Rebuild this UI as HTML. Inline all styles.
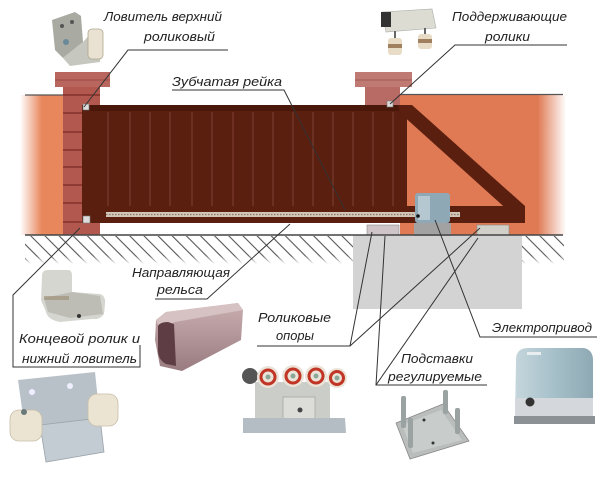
<!DOCTYPE html>
<html><head><meta charset="utf-8"><style>
html,body{margin:0;padding:0;background:#fff;}
svg{display:block;}
text{font-family:"Liberation Sans","DejaVu Sans",sans-serif;font-style:italic;font-size:13px;fill:#222;}
</style></head><body>
<svg width="600" height="482" viewBox="0 0 600 482" xmlns="http://www.w3.org/2000/svg">
<defs>
<linearGradient id="lw" x1="20" y1="0" x2="42" y2="0" gradientUnits="userSpaceOnUse"><stop offset="0" stop-color="#fff"/><stop offset="1" stop-color="#e8865c"/></linearGradient>
<linearGradient id="rw" x1="538" y1="0" x2="566" y2="0" gradientUnits="userSpaceOnUse"><stop offset="0" stop-color="#e07a55"/><stop offset="1" stop-color="#fff"/></linearGradient>
<pattern id="hp" width="10" height="10" patternUnits="userSpaceOnUse" patternTransform="rotate(-45)"><line x1="5" y1="0" x2="5" y2="10" stroke="#555" stroke-width="1.1"/></pattern>
<linearGradient id="hf" x1="0" y1="236" x2="0" y2="264" gradientUnits="userSpaceOnUse"><stop offset="0" stop-color="#fff"/><stop offset="0.7" stop-color="#fff"/><stop offset="1" stop-color="#000"/></linearGradient>
<mask id="hm"><rect x="0" y="236" width="600" height="30" fill="url(#hf)"/></mask>
<linearGradient id="mot" x1="0" y1="0" x2="1" y2="0"><stop offset="0" stop-color="#c5d6dc"/><stop offset="0.5" stop-color="#a6c0ca"/><stop offset="1" stop-color="#8fa9b4"/></linearGradient>
<linearGradient id="rail" x1="0" y1="0" x2="0" y2="1"><stop offset="0" stop-color="#c9aeb0"/><stop offset="1" stop-color="#9a7c80"/></linearGradient>
</defs>

<!-- walls -->
<rect x="20" y="95" width="45" height="140" fill="url(#lw)"/>
<rect x="400" y="95" width="140" height="140" fill="#e07a55"/>
<rect x="538" y="95" width="28" height="140" fill="url(#rw)"/>
<line x1="25" y1="95" x2="63" y2="95" stroke="#555" stroke-width="1.2"/>
<line x1="400" y1="94.5" x2="563" y2="94.5" stroke="#555" stroke-width="1.2"/>

<!-- left pillar -->
<rect x="63" y="87" width="37" height="148" fill="#b3584f"/>
<rect x="55" y="72" width="55" height="15" fill="#b8665e"/>
<line x1="55" y1="80" x2="110" y2="80" stroke="#9a4a44" stroke-width="1"/>
<g stroke="#7a2820" stroke-width="1.3">
<line x1="63" y1="95" x2="100" y2="95"/><line x1="63" y1="113" x2="82" y2="113"/><line x1="63" y1="132" x2="82" y2="132"/><line x1="63" y1="150" x2="82" y2="150"/><line x1="63" y1="167" x2="82" y2="167"/><line x1="63" y1="185" x2="82" y2="185"/><line x1="63" y1="203" x2="82" y2="203"/><line x1="63" y1="222" x2="82" y2="222"/>
</g>
<!-- right pillar -->
<rect x="365" y="87" width="35" height="20" fill="#b86a64"/>
<rect x="355" y="72" width="57" height="15" fill="#c07a74"/>
<line x1="355" y1="80" x2="412" y2="80" stroke="#a05a54" stroke-width="1"/>

<!-- gate -->
<rect x="82" y="105" width="325" height="105" fill="#5b1f10"/>
<rect x="82" y="105" width="325" height="6" fill="#4a180b"/>
<g stroke="#74372a" stroke-width="1.4">
<line x1="108" y1="112" x2="108" y2="207"/><line x1="130" y1="112" x2="130" y2="207"/><line x1="150" y1="112" x2="150" y2="207"/><line x1="170" y1="112" x2="170" y2="207"/><line x1="192" y1="112" x2="192" y2="207"/><line x1="212" y1="112" x2="212" y2="207"/><line x1="233" y1="112" x2="233" y2="207"/><line x1="253" y1="112" x2="253" y2="207"/><line x1="273" y1="112" x2="273" y2="207"/><line x1="293" y1="112" x2="293" y2="207"/><line x1="313" y1="112" x2="313" y2="207"/><line x1="333" y1="112" x2="333" y2="207"/><line x1="353" y1="112" x2="353" y2="207"/><line x1="373" y1="112" x2="373" y2="207"/><line x1="393" y1="112" x2="393" y2="207"/>
</g>
<!-- brace -->
<polygon points="398,105 412,105 525,206 525,214 512,214 400,113" fill="#5b1f10"/>
<!-- bottom beam -->
<rect x="82" y="206" width="443" height="17" fill="#5b1f10"/>
<rect x="106" y="212" width="354" height="5" fill="#d2c6b8"/>
<line x1="106" y1="214.5" x2="460" y2="214.5" stroke="#8a7a6a" stroke-width="1.2" stroke-dasharray="1.5 1.5"/>
<rect x="83" y="104" width="6" height="6" fill="#ddd" stroke="#777" stroke-width="0.6"/>
<rect x="83" y="216" width="7" height="7" fill="#ddd" stroke="#777" stroke-width="0.6"/>
<rect x="387" y="101" width="6" height="6" fill="#ddd" stroke="#777" stroke-width="0.6"/>

<!-- concrete -->
<rect x="353" y="235" width="169" height="74" fill="#d3d3d3"/>
<!-- supports -->
<rect x="367" y="225" width="32" height="10" fill="#cfc4c8" stroke="#888" stroke-width="0.6"/>
<rect x="477" y="225" width="32" height="10" fill="#d0d0c8" stroke="#888" stroke-width="0.6"/>
<!-- motor on site -->
<rect x="415" y="193" width="35" height="30" rx="3" fill="#8fa8b6"/>
<rect x="418" y="196" width="12" height="24" fill="#b5c8d2"/>
<rect x="414" y="223" width="37" height="13" fill="#a2a2a2"/>
<circle cx="418" cy="216" r="1.8" fill="#111"/>

<!-- ground line & hatching -->
<g mask="url(#hm)">
<rect x="25" y="236" width="328" height="28" fill="url(#hp)"/>
<rect x="522" y="236" width="42" height="28" fill="url(#hp)"/>
</g>
<line x1="25" y1="235" x2="563" y2="235" stroke="#444" stroke-width="1.5"/>

<!-- top-left photo: upper catcher -->
<polygon points="52,20 75,12 81,16 83,42 63,58 55,50" fill="#a9aaa2"/>
<polygon points="63,58 83,42 94,30 100,34 100,62 70,66" fill="#c6c7bf"/>
<rect x="88" y="29" width="15" height="30" rx="4" fill="#e9e1d1" stroke="#b0a890" stroke-width="0.8"/>
<circle cx="62" cy="26" r="2" fill="#555"/><circle cx="72" cy="22" r="2" fill="#555"/><circle cx="66" cy="42" r="3" fill="#6a8a9a"/>

<!-- top-right photo: support rollers -->
<polygon points="382,12 432,9 436,28 386,32" fill="#dcdcd2" stroke="#aaa" stroke-width="0.6"/>
<rect x="381" y="12" width="10" height="15" fill="#333"/>
<line x1="395" y1="31" x2="395" y2="39" stroke="#666" stroke-width="2"/>
<line x1="425" y1="28" x2="425" y2="35" stroke="#666" stroke-width="2"/>
<rect x="388" y="38" width="14" height="17" rx="3" fill="#e8dcc6"/>
<rect x="388" y="44" width="14" height="4" fill="#a0805e"/>
<rect x="418" y="34" width="14" height="15" rx="3" fill="#e8dcc6"/>
<rect x="418" y="39" width="14" height="4" fill="#a0805e"/>

<!-- end roller photo -->
<path d="M42,276 Q42,270 48,270 L68,270 Q72,270 72,276 L72,292 L100,294 Q106,296 105,304 L104,314 Q100,320 92,319 L60,322 Q48,320 46,312 L41,300 Z" fill="#d6d6d0"/>
<path d="M44,298 L72,292 L100,296 L103,314 L70,318 L48,312 Z" fill="#bdbdb6"/>
<rect x="44" y="296" width="25" height="4" fill="#9a8a70" opacity="0.6"/>
<circle cx="79" cy="316" r="2" fill="#333"/>

<!-- guide rail photo -->
<polygon points="156,320 166,312 238,303 243,310 241,340 182,371 160,366 155,340" fill="url(#rail)"/>
<polygon points="156,320 166,312 238,303 243,310 175,322 160,330" fill="#d6c2c2"/>
<path d="M158,326 Q160,322 168,322 L174,324 L176,366 L166,364 Q158,360 158,350 Z" fill="#5e3e44"/>

<!-- roller carriage photo -->
<rect x="255" y="382" width="75" height="40" fill="#cacdc8"/>
<rect x="283" y="397" width="32" height="28" fill="#dcdcd8" stroke="#999" stroke-width="0.6"/>
<circle cx="300" cy="410" r="2.5" fill="#444"/>
<polygon points="243,418 345,418 346,433 243,433" fill="#b4bcc4"/>
<circle cx="250" cy="376" r="8" fill="#555"/>
<g>
<circle cx="268" cy="377" r="11" fill="#ebe3d8"/><circle cx="268" cy="377" r="7" fill="none" stroke="#c03525" stroke-width="3"/><circle cx="268" cy="377" r="2.5" fill="#8aa89a"/>
<circle cx="293" cy="376" r="11" fill="#ebe3d8"/><circle cx="293" cy="376" r="7" fill="none" stroke="#c03525" stroke-width="3"/><circle cx="293" cy="376" r="2.5" fill="#8aa89a"/>
<circle cx="316" cy="376" r="11" fill="#ebe3d8"/><circle cx="316" cy="376" r="7" fill="none" stroke="#c03525" stroke-width="3"/><circle cx="316" cy="376" r="2.5" fill="#8aa89a"/>
<circle cx="337" cy="378" r="10" fill="#ebe3d8"/><circle cx="337" cy="378" r="6.5" fill="none" stroke="#c03525" stroke-width="3"/><circle cx="337" cy="378" r="2.5" fill="#8aa89a"/>
</g>

<!-- lower catcher photo -->
<polygon points="18,380 95,372 100,420 25,430" fill="#b9c1c8"/>
<circle cx="32" cy="392" r="3" fill="#eef"/><circle cx="70" cy="386" r="3" fill="#eef"/>
<polygon points="40,425 100,418 104,452 46,462" fill="#c4ccd3" stroke="#9aa2aa" stroke-width="0.8"/>
<rect x="88" y="394" width="30" height="32" rx="9" fill="#ece4d2" stroke="#c8bea8" stroke-width="0.8"/>
<rect x="10" y="410" width="32" height="31" rx="9" fill="#ece4d2" stroke="#c8bea8" stroke-width="0.8"/>
<circle cx="24" cy="412" r="3" fill="#6a7a7a"/>

<!-- adjustable base photo -->
<polygon points="396,423 443,404 469,441 410,459" fill="#b9bdbb" stroke="#888" stroke-width="0.8"/>
<polygon points="402,425 441,410 462,440 413,453" fill="#c8ccca"/>
<rect x="401" y="396" width="5" height="32" rx="2" fill="#9aa2a2"/>
<rect x="443" y="390" width="5" height="24" rx="2" fill="#9aa2a2"/>
<rect x="455" y="408" width="5" height="26" rx="2" fill="#9aa2a2"/>
<rect x="408" y="418" width="5" height="30" rx="2" fill="#9aa2a2"/>
<circle cx="424" cy="420" r="1.5" fill="#333"/><circle cx="433" cy="443" r="1.5" fill="#333"/>

<!-- motor photo -->
<path d="M516,360 Q516,348 528,348 L584,348 Q593,350 593,360 L593,420 L515,420 Z" fill="url(#mot)"/>
<rect x="515" y="398" width="78" height="20" fill="#d4d8dc"/>
<rect x="514" y="416" width="81" height="8" fill="#8c9196"/>
<circle cx="530" cy="402" r="4.5" fill="#333"/>
<rect x="527" y="352" width="14" height="3" fill="#e8eef0"/>

<!-- connectors -->
<g stroke="#333" stroke-width="1" fill="none">
<polyline points="228,50 128,50 84,107"/>
<polyline points="567,45 455,45 390,104"/>
<polyline points="172,90 284,90 345,210"/>
<polyline points="155,299 207,299 290,224"/>
<polyline points="80,228 13,295 13,367 140,367 140,345"/>
<polyline points="257,346 350,346 372,232"/>
<line x1="350" y1="346" x2="480" y2="228"/>
<polyline points="487,385 376,385 385,236"/>
<line x1="376" y1="385" x2="478" y2="238"/>
<polyline points="597,337 480,337 435,220"/>
</g>

<!-- labels -->
<text x="104" y="21" textLength="118" lengthAdjust="spacingAndGlyphs">Ловитель верхний</text>
<text x="144" y="41" textLength="71" lengthAdjust="spacingAndGlyphs">роликовый</text>
<text x="452" y="21" textLength="115" lengthAdjust="spacingAndGlyphs">Поддерживающие</text>
<text x="485" y="41" textLength="45" lengthAdjust="spacingAndGlyphs">ролики</text>
<text x="172" y="86" textLength="110" lengthAdjust="spacingAndGlyphs">Зубчатая рейка</text>
<text x="132" y="277" textLength="98" lengthAdjust="spacingAndGlyphs">Направляющая</text>
<text x="157" y="294" textLength="46" lengthAdjust="spacingAndGlyphs">рельса</text>
<text x="19" y="343" textLength="121" lengthAdjust="spacingAndGlyphs">Концевой ролик и</text>
<text x="22" y="363" textLength="115" lengthAdjust="spacingAndGlyphs">нижний ловитель</text>
<text x="258" y="322" textLength="73" lengthAdjust="spacingAndGlyphs">Роликовые</text>
<text x="276" y="340" textLength="38" lengthAdjust="spacingAndGlyphs">опоры</text>
<text x="492" y="332" textLength="100" lengthAdjust="spacingAndGlyphs">Электропривод</text>
<text x="401" y="363" textLength="72" lengthAdjust="spacingAndGlyphs">Подставки</text>
<text x="388" y="381" textLength="94" lengthAdjust="spacingAndGlyphs">регулируемые</text>
</svg>
</body></html>
